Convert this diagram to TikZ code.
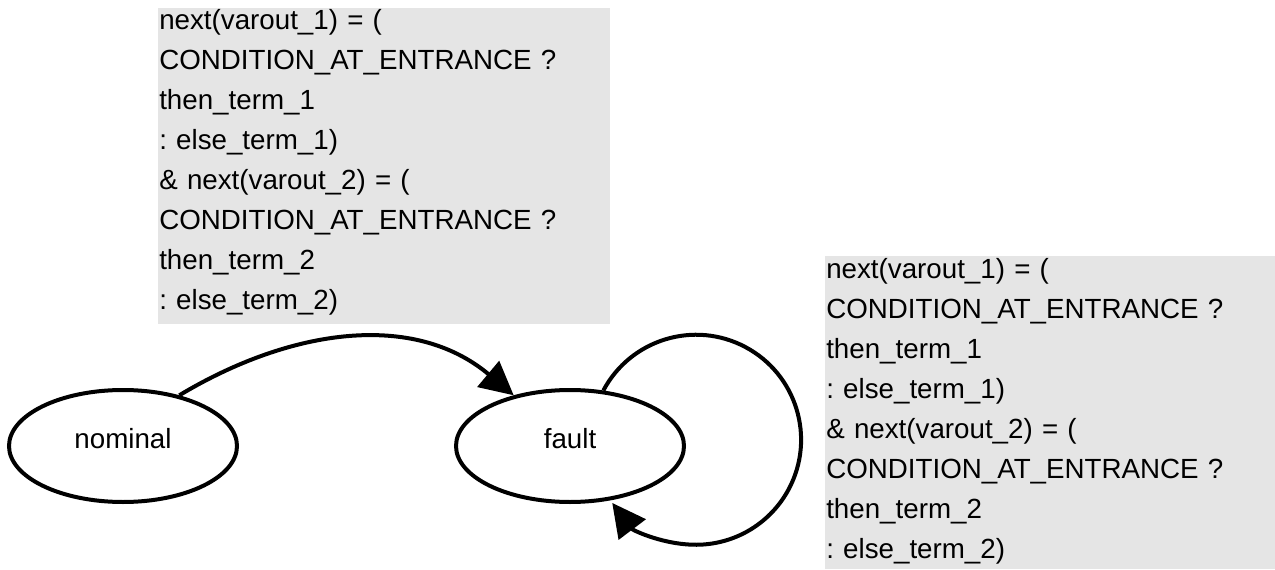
\documentclass[tikz,border=0pt]{standalone}
\usepackage{fontspec}
\setmainfont{Liberation Sans}
\usepackage{xcolor}
\usetikzlibrary{arrows.meta,shapes.geometric}

\tikzset{
  mode/.style={ellipse, draw, line width=3pt, minimum width=171pt, minimum height=84pt,
    font=\fontsize{20.8pt}{30pt}\selectfont, text height=12pt, text depth=9pt},
  trans/.style={line width=3pt, -{Triangle[length=25pt,width=25pt]}},
  note/.style={anchor=base west, inner sep=0pt, text width=330pt, align=left,
    font=\fontsize{20.8pt}{30pt}\selectfont\frenchspacing},
}

\begin{document}
\begin{tikzpicture}[x=0.75pt, y=0.75pt]
        \useasboundingbox (0,0) rectangle (1275,569);
        \fill [gray!20] (158,561) rectangle (610,245);               %entry update
        \node [note] (update1) at (159,539) {next(varout\_1) = (\\
          CONDITION\_AT\_ENTRANCE ?\\ then\_term\_1\\ : else\_term\_1)\\
          \& next(varout\_2) = (\\ CONDITION\_AT\_ENTRANCE ?\\
          then\_term\_2\\ : else\_term\_2)};
        \fill [gray!20] (825,313) rectangle (1275,0);                %loop update
        \node [note] (update2) at (826,291) {next(varout\_1) = (\\
          CONDITION\_AT\_ENTRANCE ?\\ then\_term\_1\\ : else\_term\_1)\\
          \& next(varout\_2) = (\\ CONDITION\_AT\_ENTRANCE ?\\
          then\_term\_2\\ : else\_term\_2)};

        \node [mode] (nominal) at (123,123) {nominal};               %
        \node [mode] (fault)   at (570,123) {fault};                 %
        \draw [trans] (nominal.42) to[out=31, in=140] (fault.138);   %
        \draw [trans] (fault.59) arc[start angle=152, end angle=-143, radius=105]; %self loop
\end{tikzpicture}
\end{document}
